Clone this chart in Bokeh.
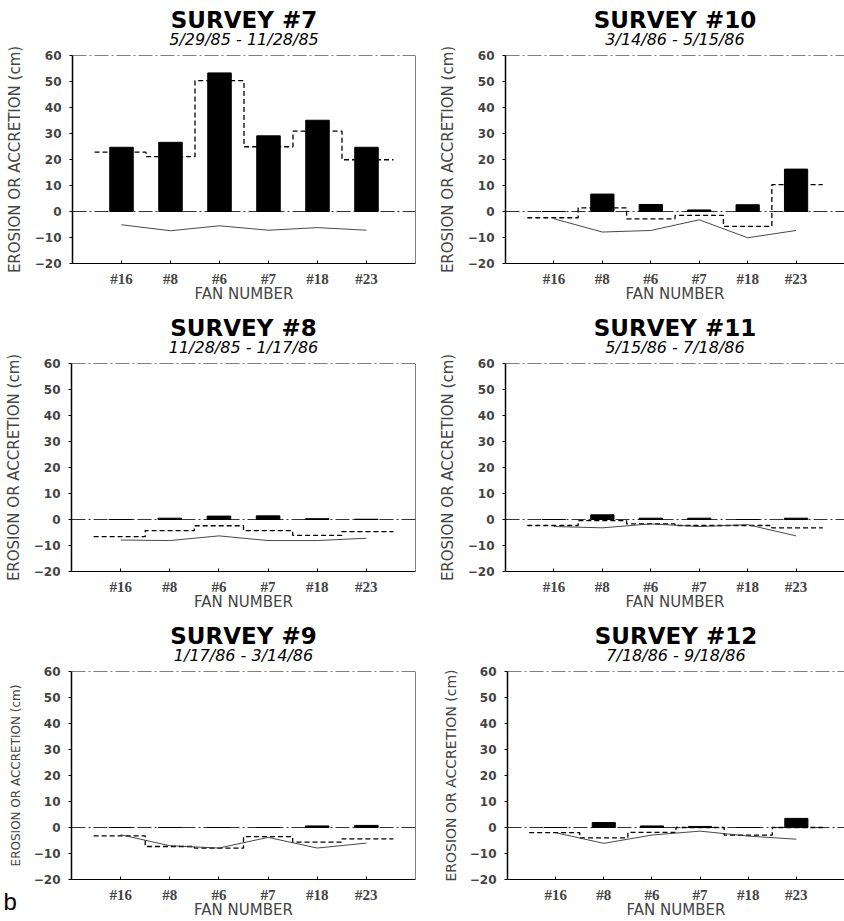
import numpy as np
from bokeh.plotting import figure
from bokeh.layouts import column, row
from bokeh.models import Title, Span, FixedTicker
from bokeh.embed import file_html
from bokeh.resources import INLINE

fans = ["#16", "#8", "#6", "#7", "#18", "#23"]
y_ticks = [-20, -10, 0, 10, 20, 30, 40, 50, 60]
y_tick_labels = ["\u221220", "\u221210", "0", "10", "20", "30", "40", "50", "60"]

titles = ["SURVEY #7", "SURVEY #10", "SURVEY #8", "SURVEY #11", "SURVEY #9", "SURVEY #12"]
periods = ["5/29/85 - 11/28/85", "3/14/86 - 5/15/86", "11/28/85 - 1/17/86",
           "5/15/86 - 7/18/86", "1/17/86 - 3/14/86", "7/18/86 - 9/18/86"]

# black bars
bars_7 = [24.7, 26.6, 53.3, 29.1, 35.1, 24.7]
bars_10 = [0.0, 6.7, 2.7, 0.6, 2.6, 16.3]
bars_8 = [0.0, 0.5, 1.3, 1.4, 0.3, 0.1]
bars_11 = [0.0, 1.8, 0.5, 0.5, 0.0, 0.5]
bars_9 = [0.0, 0.0, 0.0, 0.0, 0.6, 0.8]
bars_12 = [0.0, 1.9, 0.6, 0.4, 0.0, 3.5]

# dashed step series
step_7 = [22.8, 21.1, 50.3, 24.9, 30.9, 19.9]
step_10 = [-2.4, 1.4, -2.8, -1.5, -5.7, 10.3]
step_8 = [-6.6, -4.3, -2.4, -4.3, -6.1, -4.7]
step_11 = [-2.3, -0.4, -1.7, -2.3, -2.3, -3.2]
step_9 = [-3.2, -7.3, -7.9, -3.5, -5.6, -4.4]
step_12 = [-2.0, -4.0, -1.9, 0.0, -2.9, 0.0]

# thin solid line series
line_7 = [-5.1, -7.4, -5.5, -7.2, -6.2, -7.2]
line_10 = [-2.8, -7.9, -7.3, -3.2, -10.1, -7.3]
line_8 = [-7.9, -8.1, -6.3, -8.1, -8.1, -7.2]
line_11 = [-2.7, -3.2, -1.7, -2.7, -2.0, -6.3]
line_9 = [-2.8, -7.0, -7.9, -3.8, -7.9, -6.0]
line_12 = [-2.0, -6.1, -2.9, -1.4, -3.3, -4.5]

panel_tag = "b"

FONT = "DejaVu Sans"


def panel(idx, bars, step, line, w, h, left, right, top, bottom, right_edge, ylab_size="15px"):
    p = figure(width=w, height=h, x_range=(0, 7), y_range=(-20, 60),
               output_backend="svg", toolbar_location=None, title=None,
               min_border_left=left, min_border_right=right,
               min_border_top=top, min_border_bottom=bottom)
    p.add_layout(Title(text=periods[idx], align="center", text_font=FONT,
                       text_font_style="italic", text_font_size="16px",
                       text_color="black", standoff=14), "above")
    p.add_layout(Title(text=titles[idx], align="center", text_font=FONT,
                       text_font_style="bold", text_font_size="23px",
                       text_color="black", standoff=-24), "above")
    p.grid.visible = False
    p.outline_line_color = None
    p.background_fill_color = "white"
    p.border_fill_color = "white"

    x = np.arange(1, len(fans) + 1)
    p.xaxis.ticker = FixedTicker(ticks=list(x))
    p.xaxis.major_label_overrides = {int(i): f for i, f in zip(x, fans)}
    p.xaxis.axis_label = "FAN NUMBER"
    p.xaxis.axis_label_text_font = FONT
    p.xaxis.axis_label_text_font_style = "normal"
    p.xaxis.axis_label_text_font_size = "15px"
    p.xaxis.axis_label_standoff = -5
    p.xaxis.major_label_text_font = "Liberation Serif"
    p.xaxis.major_label_text_font_style = "bold"
    p.xaxis.major_label_text_font_size = "15px"
    p.xaxis.major_label_standoff = 7
    p.xaxis.major_tick_in = 3
    p.xaxis.major_tick_out = 0
    p.xaxis.minor_tick_line_color = None
    p.xaxis.axis_line_color = "black"

    p.yaxis.ticker = FixedTicker(ticks=y_ticks)
    p.yaxis.major_label_overrides = dict(zip(y_ticks, y_tick_labels))
    p.yaxis.axis_label = "EROSION OR ACCRETION (cm)"
    p.yaxis.axis_label_text_font = FONT
    p.yaxis.axis_label_text_font_style = "normal"
    p.yaxis.axis_label_text_font_size = ylab_size
    p.yaxis.axis_label_standoff = 8
    p.yaxis.major_label_text_font = FONT
    p.yaxis.major_label_text_font_style = "bold"
    p.yaxis.major_label_text_font_size = "12px"
    p.yaxis.major_label_standoff = 8
    p.yaxis.major_tick_in = 0
    p.yaxis.major_tick_out = 3
    p.yaxis.minor_tick_line_color = None
    p.yaxis.axis_line_width = 1.5
    p.yaxis.axis_line_color = "black"

    p.add_layout(Span(location=60, dimension="width", line_color="black",
                      line_width=1, line_dash="14 3 2 3"))
    p.add_layout(Span(location=0, dimension="width", line_color="black",
                      line_width=0.8, line_dash="14 3 2 3"))
    if right_edge:
        p.add_layout(Span(location=7, dimension="height", line_color="black",
                          line_width=1))

    p.vbar(x=x, top=bars, bottom=0, width=0.48, fill_color="black", line_color="black")

    sx, sy = [], []
    n = len(step)
    for i, v in enumerate(step):
        lo = x[i] - (0.55 if i == 0 else 0.5)
        hi = x[i] + (0.55 if i == n - 1 else 0.5)
        sx += [lo, hi]
        sy += [v, v]
    p.line(sx, sy, line_color="black", line_width=1.3, line_dash="5 3")
    p.line(x, line, line_color="#333333", line_width=0.9)
    return p


p1 = panel(0, bars_7, step_7, line_7, 422, 305, 72, 7, 55, 41, True)
p2 = panel(1, bars_10, step_10, line_10, 422, 305, 83, 0, 55, 41, False)
p3 = panel(2, bars_8, step_8, line_8, 422, 308, 71, 7, 58, 41, True)
p4 = panel(3, bars_11, step_11, line_11, 422, 308, 83, 0, 58, 41, False)
p5 = panel(4, bars_9, step_9, line_9, 422, 308, 71, 7, 58, 42, True, ylab_size="12px")
p6 = panel(5, bars_12, step_12, line_12, 422, 308, 85, 0, 58, 42, False, ylab_size="14px")

p5.add_layout(Title(text=panel_tag, align="left", offset=-68, standoff=-68,
                    vertical_align="top", text_font="Liberation Sans",
                    text_font_style="normal", text_font_size="24px",
                    text_color="black"), "below")

layout = column(row(p1, p2), row(p3, p4), row(p5, p6))
open("out.html", "w").write(file_html(layout, INLINE))
